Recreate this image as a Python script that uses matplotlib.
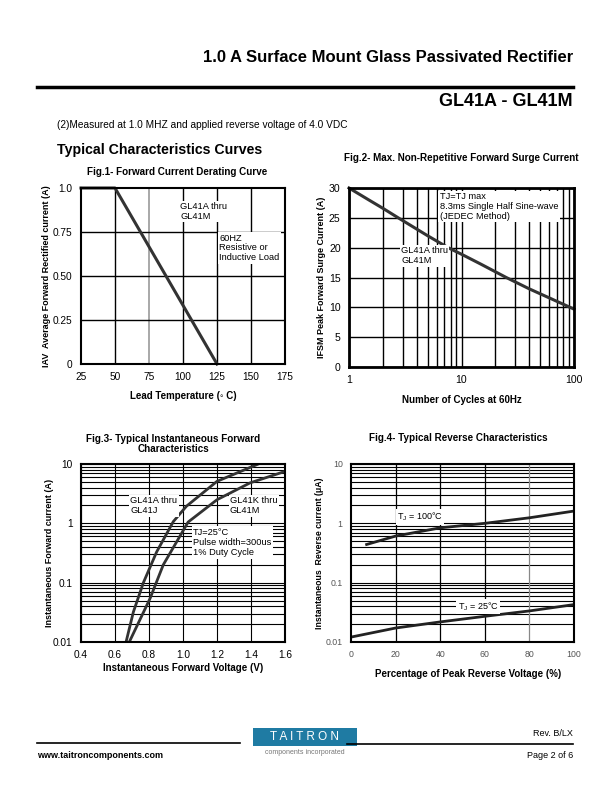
import matplotlib
matplotlib.use("Agg")
import matplotlib.pyplot as plt
from matplotlib import font_manager
from matplotlib.patches import Rectangle
from matplotlib.ticker import NullFormatter, LogLocator

# ---- data ----
# Fig.1 derating
lead_temp = [25, 50, 125]
iav = [1.0, 1.0, 0.0]

# Fig.2 surge current
cycles = [1, 1.5, 2, 2.74, 5, 7.6, 10, 15, 25, 40, 60, 100]
ifsm = [30, 28, 26.6, 25, 22, 20, 18.9, 17.2, 15, 13.1, 11.6, 9.7]

# Fig.3 forward characteristics
vf_aj = [0.665, 0.708, 0.767, 0.845, 0.943, 1.02, 1.2, 1.443]
if_aj = [0.01, 0.032, 0.1, 0.33, 1.07, 1.94, 5.1, 10]
vf_km = [0.684, 0.806, 0.884, 1.03, 1.2, 1.394, 1.6]
if_km = [0.01, 0.054, 0.2, 1.05, 2.5, 4.8, 7.5]

# Fig.4 reverse characteristics
pct_100 = [7, 20, 40, 60, 80, 100]
ir_100 = [0.44, 0.61, 0.84, 1.0, 1.24, 1.61]
pct_25 = [0, 20, 40, 60, 80, 100]
ir_25 = [0.0121, 0.0172, 0.0218, 0.0271, 0.0334, 0.0427]

W, H = 612, 792
names = {f.name for f in font_manager.fontManager.ttflist}
BASE = "Liberation Sans"
NARROW = "Liberation Sans Narrow" if "Liberation Sans Narrow" in names else BASE
plt.rcParams["font.family"] = [BASE, "DejaVu Sans"]

fig = plt.figure(figsize=(W / 100, H / 100), dpi=100)
fig.patch.set_facecolor("white")


def axes_px(x0, y0, x1, y1):
    return fig.add_axes([x0 / W, 1 - y1 / H, (x1 - x0) / W, (y1 - y0) / H])


def txt(x, y, s, **kw):
    kw.setdefault("va", "center")
    return fig.text(x / W, 1 - y / H, s, **kw)


def hline(x0, x1, y, lw):
    fig.add_artist(plt.Line2D([x0 / W, x1 / W], [1 - y / H, 1 - y / H], color="black", lw=lw))


def style_axes(ax, spine_lw=1.5, size=7.3, color="black"):
    for s in ax.spines.values():
        s.set_linewidth(spine_lw)
    ax.tick_params(which="both", length=0, labelsize=size, colors=color, pad=6)
    ax.set_axisbelow(True)


# ---- page header ----
txt(573, 57, "1.0 A Surface Mount Glass Passivated Rectifier", ha="right", fontsize=12, fontweight="bold")
hline(37, 573, 87, 2.5)
txt(573, 101, "GL41A - GL41M", ha="right", fontsize=13, fontweight="bold")
txt(57, 125, "(2)Measured at 1.0 MHZ and applied reverse voltage of 4.0 VDC", fontsize=7.3)
txt(57, 150, "Typical Characteristics Curves", fontsize=10.2, fontweight="bold")

# ---- Fig.1 ----
ax1 = axes_px(81, 188, 285, 364)
ax1.set_xlim(25, 175)
ax1.set_ylim(0, 1.0)
ax1.set_xticks([25, 50, 75, 100, 125, 150, 175])
ax1.set_yticks([0, 0.25, 0.5, 0.75, 1.0])
ax1.set_yticklabels(["0", "0.25", "0.50", "0.75", "1.0"])
for t in [50, 100, 125, 150]:
    ax1.axvline(t, color="black", lw=1)
ax1.axvline(75, color="#999999", lw=1.2)
for v in [0.25, 0.5, 0.75]:
    ax1.axhline(v, color="black", lw=1)
ax1.plot(lead_temp, iav, color="#333333", lw=2.2, clip_on=False)
box = dict(facecolor="white", edgecolor="none", pad=1)
ax1.text(98, 0.92, "GL41A thru\nGL41M", fontsize=6.7, va="top", bbox=box, linespacing=1.1)
ax1.text(126.5, 0.74, "60HZ\nResistive or\nInductive Load", fontsize=6.7, va="top", bbox=box, linespacing=1.1)
style_axes(ax1)
txt(177, 172, "Fig.1- Forward Current Derating Curve", ha="center", fontsize=7.1, fontweight="bold", family=NARROW)
txt(47, 276, "IAV  Average Forward Rectified current (A)", ha="center", rotation=90, fontsize=6.5, fontweight="bold", family=NARROW)
txt(183, 396, "Lead Temperature (\u25e6 C)", ha="center", fontsize=7, fontweight="bold", family=NARROW)

# ---- Fig.2 ----
ax2 = axes_px(349, 188, 574, 367)
ax2.set_xscale("log")
ax2.set_xlim(1, 100)
ax2.set_ylim(0, 30)
ax2.set_xticks([1, 10, 100])
ax2.set_xticklabels(["1", "10", "100"])
ax2.xaxis.set_minor_locator(LogLocator(base=10, subs=range(2, 10)))
ax2.xaxis.set_minor_formatter(NullFormatter())
ax2.set_yticks(range(0, 31, 5))
ax2.grid(True, which="both", axis="x", color="black", lw=1)
ax2.grid(True, which="major", axis="y", color="black", lw=1)
ax2.plot(cycles, ifsm, color="#333333", lw=2.2, clip_on=False)
ax2.text(6.4, 29.3, "TJ=TJ max\n8.3ms Single Half Sine-wave\n(JEDEC Method)", fontsize=6.7,
         va="top", bbox=box, linespacing=1.1)
ax2.text(2.9, 20.2, "GL41A thru\nGL41M", fontsize=6.7, va="top", bbox=box, linespacing=1.1)
style_axes(ax2, spine_lw=2, size=7.6)
txt(461, 158, "Fig.2- Max. Non-Repetitive Forward Surge Current", ha="center", fontsize=7.1, fontweight="bold", family=NARROW)
txt(321, 277, "IFSM Peak Forward Surge Current (A)", ha="center", rotation=90, fontsize=6.5, fontweight="bold", family=NARROW)
txt(462, 400, "Number of Cycles at 60Hz", ha="center", fontsize=7, fontweight="bold", family=NARROW)

# ---- Fig.3 ----
ax3 = axes_px(81, 464, 285, 642)
ax3.set_yscale("log")
ax3.set_xlim(0.4, 1.6)
ax3.set_ylim(0.01, 10)
ax3.set_xticks([0.4, 0.6, 0.8, 1.0, 1.2, 1.4, 1.6])
ax3.set_yticks([0.01, 0.1, 1, 10])
ax3.set_yticklabels(["0.01", "0.1", "1", "10"])
ax3.yaxis.set_minor_locator(LogLocator(base=10, subs=range(2, 10)))
ax3.yaxis.set_minor_formatter(NullFormatter())
ax3.grid(True, which="both", axis="y", color="black", lw=0.8)
ax3.grid(True, which="major", axis="x", color="black", lw=0.8)
ax3.plot(vf_aj, if_aj, color="#333333", lw=2)
ax3.plot(vf_km, if_km, color="#333333", lw=2)
ax3.text(0.69, 2.9, "GL41A thru\nGL41J", fontsize=6.7, va="top", bbox=box, linespacing=1.2)
ax3.text(1.276, 2.9, "GL41K thru\nGL41M", fontsize=6.7, va="top", bbox=box, linespacing=1.2)
ax3.text(1.06, 0.85, "TJ=25\u00b0C\nPulse width=300us\n1% Duty Cycle", fontsize=6.7, va="top", bbox=box, linespacing=1.2)
style_axes(ax3)
txt(173, 444, "Fig.3- Typical Instantaneous Forward\nCharacteristics", ha="center", fontsize=7.1, fontweight="bold",
    family=NARROW, linespacing=1.1)
txt(50, 553, "Instantaneous Forward current (A)", ha="center", rotation=90, fontsize=6.5, fontweight="bold", family=NARROW)
txt(183, 668, "Instantaneous Forward Voltage (V)", ha="center", fontsize=7, fontweight="bold", family=NARROW)

# ---- Fig.4 ----
ax4 = axes_px(351, 464, 574, 642)
ax4.set_yscale("log")
ax4.set_xlim(0, 100)
ax4.set_ylim(0.01, 10)
ax4.set_xticks(range(0, 101, 20))
ax4.set_yticks([0.01, 0.1, 1, 10])
ax4.set_yticklabels(["0.01", "0.1", "1", "10"])
ax4.yaxis.set_minor_locator(LogLocator(base=10, subs=range(2, 10)))
ax4.yaxis.set_minor_formatter(NullFormatter())
ax4.grid(True, which="both", axis="y", color="black", lw=0.8)
for p in [20, 40, 60]:
    ax4.axvline(p, color="black", lw=0.9)
ax4.axvline(80, color="#888888", lw=0.9)
ax4.plot(pct_100, ir_100, color="#222222", lw=2)
ax4.plot(pct_25, ir_25, color="#222222", lw=2)
ax4.text(31, 1.28, "T$_\\mathregular{J}$ = 100\u00b0C", fontsize=6.5, ha="center", va="center", bbox=box)
ax4.text(57, 0.04, "T$_\\mathregular{J}$ = 25\u00b0C", fontsize=6.5, ha="center", va="center", bbox=box)
style_axes(ax4, spine_lw=1.5, size=6.3, color="#555555")
for s in ax4.spines.values():
    s.set_edgecolor("black")
txt(458, 438, "Fig.4- Typical Reverse Characteristics", ha="center", fontsize=7.1, fontweight="bold", family=NARROW)
txt(319, 553, "Instantaneous  Reverse current (\u03bcA)", ha="center", rotation=90, fontsize=6.3, fontweight="bold", family=NARROW)
txt(468, 674, "Percentage of Peak Reverse Voltage (%)", ha="center", fontsize=7, fontweight="bold", family=NARROW)

# ---- footer ----
hline(37, 240, 743, 1.2)
hline(347, 573, 744, 1.2)
fig.add_artist(Rectangle((253 / W, 1 - 746 / H), 104 / W, 18 / H, transform=fig.transFigure,
                         facecolor="#1f7ba3", edgecolor="none"))
txt(305, 737, "T A I T R O N", ha="center", fontsize=8.5, color="white")
txt(305, 752, "components incorporated", ha="center", fontsize=5, color="#777777")
txt(573, 734, "Rev. B/LX", ha="right", fontsize=6.5, family=NARROW)
txt(37, 756, "www.taitroncomponents.com", fontsize=6.5, fontweight="bold", family=NARROW)
txt(573, 756, "Page 2 of 6", ha="right", fontsize=6.5, family=NARROW)

fig.savefig("out.png", dpi=100, facecolor="white")
